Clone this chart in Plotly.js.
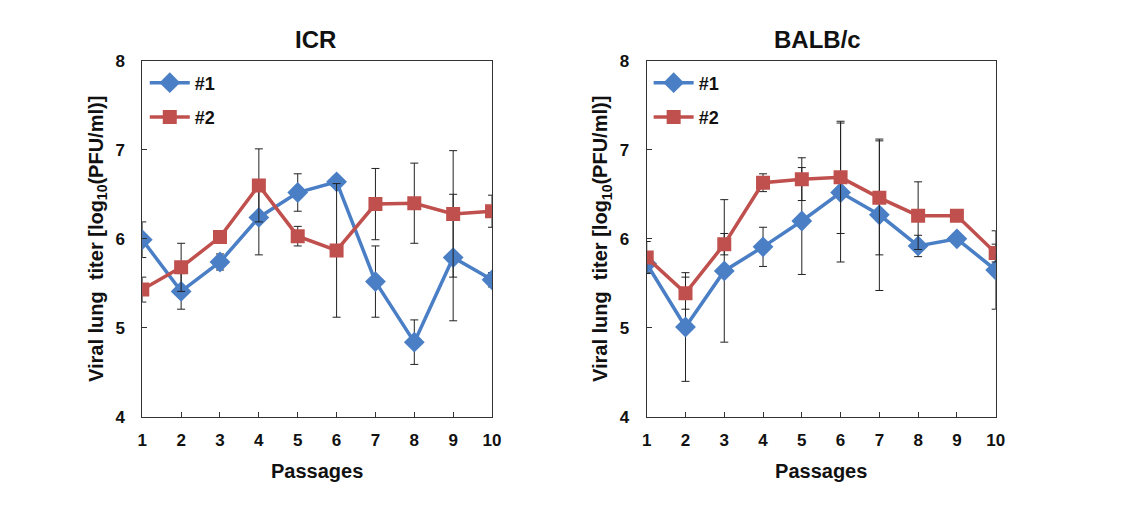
<!DOCTYPE html>
<html><head><meta charset="utf-8">
<script src="https://cdn.plot.ly/plotly-3.0.1.min.js"></script>
<style>body{margin:0;background:#fff}#c{width:1140px;height:516px}</style>
</head><body><div id="c"></div>
<script>
const passages = [1,2,3,4,5,6,7,8,9,10];
const icr1 = [5.99,5.41,5.74,6.24,6.52,6.64,5.52,4.84,5.79,5.54];
const icr1Err = [0.20,0.20,0.09,0.42,0.21,0.05,0.40,0.25,0.71,0.08];
const icr2 = [5.43,5.68,6.02,6.60,6.03,5.87,6.39,6.40,6.28,6.31];
const icr2Err = [0.14,0.27,0.05,0.41,0.11,0.75,0.40,0.45,0.71,0.18];
const balb1 = [5.72,5.01,5.64,5.91,6.20,6.52,6.27,5.92,6.00,5.65];
const balb1Err = [0.10,0.61,0.80,0.22,0.60,0.78,0.85,0.12,0.05,0.44];
const balb2 = [5.79,5.39,5.94,6.63,6.67,6.69,6.46,6.26,6.26,5.84];
const balb2Err = [0.18,0.18,0.12,0.10,0.24,0.63,0.64,0.38,0.05,0.10];
const seriesNames = ['#1','#2'];
const panelTitles = ['ICR','BALB/c'];
const yTicks = [4,5,6,7,8];

const BLUE = '#4A7FC6', RED = '#C0504D';
const FONT = 'Liberation Sans, Arial, sans-serif';

function tr(y, e, name, color, sym, size, xa, ya, leg){
  return {x: passages, y: y, name: name, type:'scatter', mode:'lines+markers',
    xaxis: xa, yaxis: ya, legend: leg, showlegend: true, legendgroup: name,
    line:{color:color, width:3.5},
    marker:{symbol:sym, size:size, color:color},
    error_y:{type:'data', array:e, visible:true, color:'#222', thickness:1, width:4}};
}
const data = [
  tr(icr1, icr1Err, seriesNames[0], BLUE, 'diamond', 16, 'x', 'y', 'legend'),
  tr(icr2, icr2Err, seriesNames[1], RED, 'square', 14, 'x', 'y', 'legend'),
  tr(balb1, balb1Err, seriesNames[0], BLUE, 'diamond', 16, 'x2', 'y2', 'legend2'),
  tr(balb2, balb2Err, seriesNames[1], RED, 'square', 14, 'x2', 'y2', 'legend2')
];
const tickFont = {family: FONT, size: 17, color:'#111', weight: 'bold'};
const titleFont = {family: FONT, size: 20, color:'#111', weight: 'bold'};
function xax(dom, anchor){
  return {domain: dom, anchor: anchor, range:[1,10], tickvals: passages, ticks:'inside', ticklen:5,
    tickcolor:'#333', showline:true, mirror:true, linecolor:'#333', linewidth:1, showgrid:false,
    zeroline:false, tickfont: tickFont, ticklabelstandoff: 8,
    title:{text:'Passages', font: titleFont, standoff: 14}};
}
function yax(dom, anchor){
  return {domain: dom, anchor: anchor, range:[4,8], tickvals: yTicks, ticks:'inside', ticklen:5,
    tickcolor:'#333', showline:true, mirror:true, linecolor:'#333', linewidth:1, showgrid:false,
    zeroline:false, tickfont: tickFont, ticklabelstandoff: 13,
    title:{text:'Viral lung  titer [log<sub>10</sub>(PFU/ml)]', font: titleFont, standoff: 6}};
}
const yd = [0.1919, 0.8824];
const leg = (x) => ({x:x, y:0.875, xanchor:'left', yanchor:'top', bgcolor:'rgba(0,0,0,0)',
  font:{family:FONT, size:18, color:'#111', weight:'bold'}, tracegroupgap: 8, itemwidth: 40});
const layout = {
  width:1140, height:516, margin:{l:0,r:0,t:0,b:0}, paper_bgcolor:'#fff', plot_bgcolor:'#fff',
  showlegend:true,
  xaxis: xax([0.1248,0.4316],'y'), yaxis: yax(yd,'x'),
  xaxis2: xax([0.5673,0.8734],'y2'), yaxis2: yax(yd,'x2'),
  legend: leg(0.127), legend2: leg(0.569),
  annotations:[
    {text:panelTitles[0], xref:'paper', yref:'paper', x:0.2765, y:0.924, xanchor:'center', yanchor:'middle', showarrow:false, font:{family:FONT, size:24, color:'#111', weight:'bold'}},
    {text:panelTitles[1], xref:'paper', yref:'paper', x:0.7175, y:0.924, xanchor:'center', yanchor:'middle', showarrow:false, font:{family:FONT, size:24, color:'#111', weight:'bold'}}
  ]
};
Plotly.newPlot('c', data, layout, {displayModeBar:false, staticPlot:true});
</script></body></html>
